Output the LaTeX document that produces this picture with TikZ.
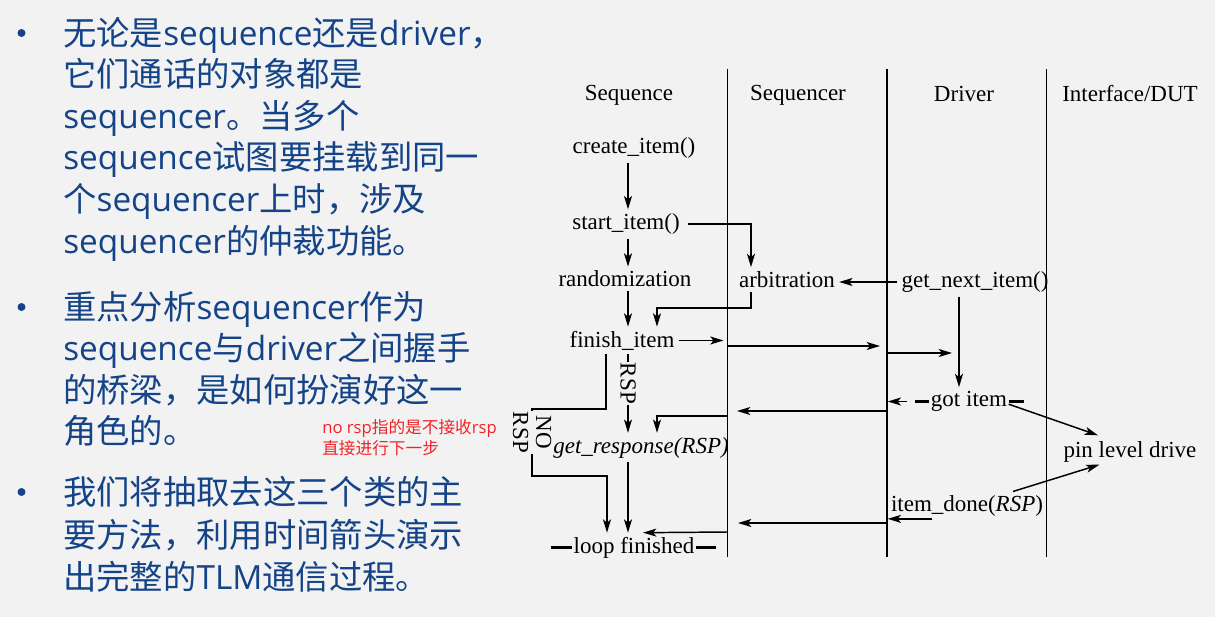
\documentclass[tikz,border=0pt]{standalone}
\usepackage{fontspec}
\setmainfont{Liberation Serif}
\newfontfamily\cjk{Noto Sans CJK SC}
\newfontfamily\lat{Open Sans}
\newcommand{\latw}[1]{{\lat #1}}
\usetikzlibrary{arrows.meta}
\definecolor{bg}{HTML}{F2F2F2}
\definecolor{txtblue}{RGB}{20,68,135}
\definecolor{notered}{RGB}{240,36,40}
\begin{document}
\begin{tikzpicture}[x=0.75pt,y=-0.75pt,
  lbl/.style={font=\fontsize{17.25}{20}\selectfont, inner sep=3pt},
  arr/.style={draw, line width=1.1pt, -{Stealth[length=10pt,width=6pt,inset=2.5pt]}},
  ln/.style={line width=1.1pt},
  bar/.style={line width=2.6pt},
  bul/.style={font=\cjk\fontsize{25}{31}\selectfont, text=txtblue, anchor=base west, inner sep=0pt},
  note/.style={font=\cjk\fontsize{12.5}{15}\selectfont, text=notered, anchor=base west, inner sep=0pt},
  rlbl/.style={font=\fontsize{17.25}{17.25}\selectfont, rotate=-90, fill=bg, inner sep=1pt, align=center}]
\fill[bg] (0,0) rectangle (1215,617);
\useasboundingbox (0,0) rectangle (1215,617);

% ---------- left text ----------
\fill[txtblue] (21.5,33) circle[radius=3pt];
\fill[txtblue] (21.5,307) circle[radius=3pt];
\fill[txtblue] (21.5,492) circle[radius=3pt];
\node[bul] (t1a) at (63,45.5) {无论是\latw{sequence}还是\latw{driver}，};
\node[bul] (t1b) at (63,87) {它们通话的对象都是};
\node[bul] (t1c) at (63,128.5) {\latw{sequencer}。当多个};
\node[bul] (t1d) at (63,170) {\latw{sequence}试图要挂载到同一};
\node[bul] (t1e) at (63,211.5) {个\latw{sequencer}上时，涉及};
\node[bul] (t1f) at (63,253) {\latw{sequencer}的仲裁功能。};
\node[bul] (t2a) at (63,319.5) {重点分析\latw{sequencer}作为};
\node[bul] (t2b) at (63,360.8) {\latw{sequence}与\latw{driver}之间握手};
\node[bul] (t2c) at (63,402) {的桥梁，是如何扮演好这一};
\node[bul] (t2d) at (63,443.4) {角色的。};
\node[bul] (t3a) at (63,504) {我们将抽取去这三个类的主};
\node[bul] (t3b) at (63,547.5) {要方法，利用时间箭头演示};
\node[bul] (t3c) at (63,589) {出完整的\latw{TLM}通信过程。};
\node[note] (n1) at (322,433) {\latw{no rsp}指的是不接收\latw{rsp}};
\node[note] (n2) at (322,454.5) {直接进行下一步};

% ---------- lifelines ----------
\coordinate (L1t) at (727.5,69); \coordinate (L1b) at (727.5,557);
\coordinate (L2t) at (887,69);   \coordinate (L2b) at (887,557);
\coordinate (L3t) at (1046.5,69); \coordinate (L3b) at (1046.5,557);
\draw[ln] (L1t) -- (L1b);
\draw[ln] (L2t) -- (L2b);
\draw[ln] (L3t) -- (L3b);

% ---------- headers ----------
\node[lbl] (hSeq) at (629,95) {Sequence};
\node[lbl] (hSqr) at (798,95) {Sequencer};
\node[lbl] (hDrv) at (964,94) {Driver};
\node[lbl] (hIf) at (1130,94) {Interface/DUT};

% ---------- nodes ----------
\node[lbl] (create) at (634,148) {create\_item()};
\node[lbl] (start) at (626,224) {start\_item()};
\node[lbl] (rand) at (625,279) {randomization};
\node[lbl] (arb) at (787,279.5) {arbitration};
\node[lbl] (gni) at (975,282) {get\_next\_item()};
\node[lbl] (finish) at (622,340.5) {finish\_item};
\node[lbl, inner xsep=1pt] (got) at (969,401.5) {got item};
\node[lbl] (pin) at (1130,452) {pin level drive};
\node[lbl] (getresp) at (641,447.5) {\itshape get\_response(RSP)};
\node[lbl] (done) at (967,505.5) {item\_done(\textit{RSP})};
\node[lbl, inner xsep=1pt] (loop) at (634,547.5) {loop finished};

% ---------- helper columns / rows ----------
\coordinate (colA) at (628,0);
\coordinate (colB) at (751,0);
\coordinate (colC) at (657,0);
\coordinate (colD) at (959,0);
\coordinate (colE) at (606,0);
\coordinate (colF) at (532,0);
\coordinate (colG) at (607,0);
\coordinate (colT) at (643,0);
\coordinate (k1) at (0,308);
\coordinate (k2) at (0,409);
\coordinate (k3) at (0,476);

% ---------- sequence column ----------
\draw[arr] (create.south -| colA) -- (start.north -| colA);
\draw[arr] (start.south -| colA) -- (rand.north -| colA);
\draw[arr] (rand.south -| colA) -- (finish.north -| colA);
\draw[arr, shorten <=3pt] (start.east) -| (colB |- arb.north);
\draw[arr] (colB |- arb.south) -- (colB |- k1) -| (colC |- finish.north);
\draw[arr] (gni.west) -- (arb.east |- gni.west);
\draw[arr] (colA |- finish.south) -- node[rlbl, pos=0.37] (rsp) {RSP} (colA |- getresp.north);
\draw[arr] (colA |- getresp.south) -- (colA |- loop.north);
\draw[arr] (colE |- finish.south) -- (colE |- k2) -- (colF |- k2)
  -- node[rlbl, pos=0.35] (norsp) {NO\\RSP} (colF |- k3) -- (colG |- k3) -- (colG |- loop.north);

% ---------- messages ----------
\draw[arr, shorten >=3pt] (finish.east) -- (finish.east -| L1t);
\coordinate (m1a) at (727.5,346); \coordinate (m1b) at (880,346);
\draw[arr] (m1a) -- (m1b);
\coordinate (m2a) at (887,353); \coordinate (m2b) at (952,353);
\draw[arr] (m2a) -- (m2b);
\draw[arr] (colD |- gni.south) -- (colD |- got.north);
\draw[bar] (got.west) -- ++(-14,0);
\draw[bar] (got.east) -- ++(15,0);
\draw[arr, shorten >=0.5pt] ([xshift=-16.5pt]got.west) -- (got.west -| L2t);
\draw[arr] ([yshift=-2pt]got.east) -- ([xshift=-24pt,yshift=1.5pt]pin.north);
\draw[arr] ([xshift=34.5pt,yshift=-0.5pt]done.north) -- ([xshift=-23pt,yshift=1.5pt]pin.south);
\draw[arr, shorten >=0.5pt] ([xshift=-26pt,yshift=1pt]done.south) -- ([yshift=1pt]done.south -| L2t);
\coordinate (m3a) at (887,411); \coordinate (m3b) at (737,411);
\draw[arr] (m3a) -- (m3b);
\coordinate (m4a) at (727.5,416);
\draw[arr] (m4a) -| (colC |- getresp.north);
\coordinate (m5a) at (887,523); \coordinate (m5b) at (738,523);
\draw[arr] (m5a) -- (m5b);
\coordinate (m6a) at (727.5,532);
\draw[arr] (m6a) -- (colT |- loop.north);
\draw[bar] (loop.west) -- ++(-21,0);
\draw[bar] (loop.east) -- ++(20,0);
\end{tikzpicture}
\end{document}
